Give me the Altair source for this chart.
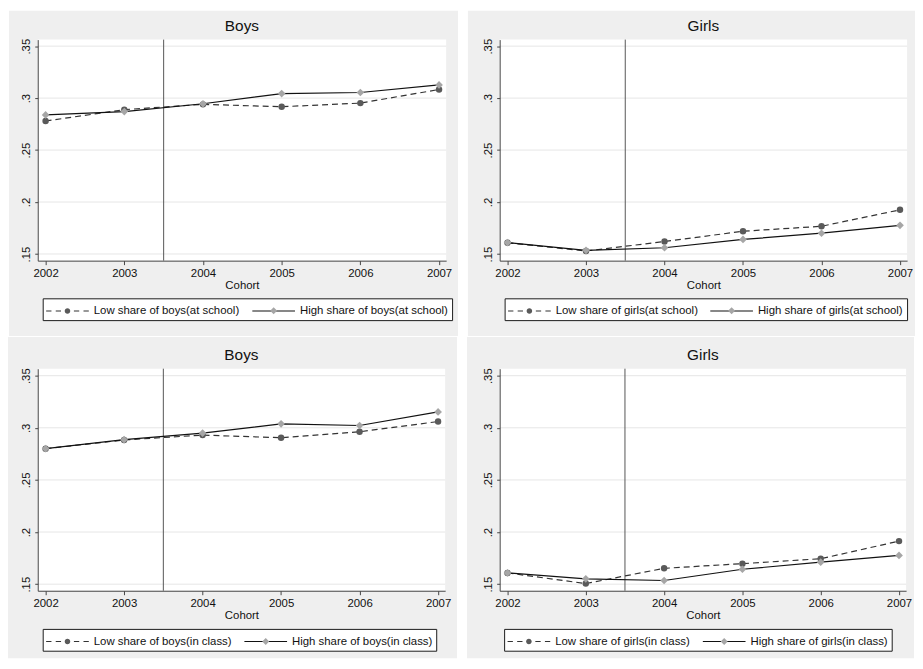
import altair as alt
import pandas as pd

# ---------------- data ----------------
cohorts = [2002, 2003, 2004, 2005, 2006, 2007]

boys_school_low = [0.2780, 0.2889, 0.2940, 0.2917, 0.2952, 0.3083]
boys_school_high = [0.2838, 0.2870, 0.2946, 0.3044, 0.3054, 0.3127]

girls_school_low = [0.1608, 0.1529, 0.1620, 0.1719, 0.1767, 0.1925]
girls_school_high = [0.1610, 0.1535, 0.1560, 0.1640, 0.1700, 0.1776]

boys_class_low = [0.2800, 0.2883, 0.2930, 0.2905, 0.2962, 0.3060]
boys_class_high = [0.2800, 0.2886, 0.2949, 0.3038, 0.3022, 0.3152]

girls_class_low = [0.1608, 0.1506, 0.1652, 0.1697, 0.1744, 0.1913]
girls_class_high = [0.1608, 0.1551, 0.1535, 0.1643, 0.1711, 0.1776]

panel_titles = ["Boys", "Girls", "Boys", "Girls"]
low_labels = ["Low share of boys(at school)", "Low share of girls(at school)",
              "Low share of boys(in class)", "Low share of girls(in class)"]
high_labels = ["High share of boys(at school)", "High share of girls(at school)",
               "High share of boys(in class)", "High share of girls(in class)"]

y_ticks = [0.15, 0.2, 0.25, 0.3, 0.35]
reform_line = [2003.5]
x_title = "Cohort"

# ---------------- styling ----------------
FONT = "Liberation Sans"
BG = "#efefef"
AXIS_COL = "#444444"
TXT = "#111111"
LOW_LINE = "#333333"
HIGH_LINE = "#111111"
LOW_MARK = "#5a5a5a"
HIGH_MARK = "#a6a6a6"
GRID = "#e6e6e6"

# legend symbols: nominal size 16px (keeps rows compact), glyph paths are 43px wide
SYM_SIZE = 16 * 16
A_LOW = ("M-2.69,0L-2.02,0M-1.48,0L-0.81,0M-0.27,0L0.27,0"
         "M0.81,0L1.48,0M2.02,0L2.69,0")
A_HIGH = "M-2.69,0L2.69,0"
B_LOW = "M-2.69,0L2.69,0M-0.35,0A0.35,0.35 0 1,1 0.35,0A0.35,0.35 0 1,1 -0.35,0Z"
B_HIGH = "M-2.69,0L2.69,0M0,-0.44L0.44,0L0,0.44L-0.44,0Z"


def legend_def(kind, lx, ly):
    common = dict(
        orient="none", legendX=lx, legendY=ly, direction="horizontal", title=None,
        labelFont=FONT, labelFontSize=11.5, labelLimit=0, labelOffset=17.5,
        symbolOffset=12.5, columnPadding=9, padding=3.5, symbolSize=SYM_SIZE,
        symbolOpacity=1, symbolStrokeWidth=1.1,
    )
    if kind == "A":
        return alt.Legend(**common, labelColor=TXT, fillColor="white",
                          strokeColor="#1a1a1a", zindex=1)
    return alt.Legend(**common, labelColor="transparent", zindex=2)


def panel(title, low_vals, high_vals, low_lab, high_lab, W, H, box, lxy, ydom):
    df = pd.DataFrame({
        "cohort": cohorts + cohorts,
        "value": low_vals + high_vals,
        "series": [low_lab] * len(cohorts) + [high_lab] * len(cohorts),
    })
    dom = [low_lab, high_lab]
    xs = alt.Scale(domain=[2001.9, 2007.09], nice=False, zero=False)
    ys = alt.Scale(domain=ydom, nice=False, zero=False)
    xaxis = alt.Axis(
        values=cohorts, format="d", title=x_title, labelFont=FONT, labelFontSize=11.5,
        labelColor=TXT, titleFont=FONT, titleFontSize=11.5, titleFontWeight="normal",
        titleColor=TXT, titlePadding=1, tickSize=4, tickColor=AXIS_COL, domainColor=AXIS_COL,
        labelPadding=3, grid=False, zindex=1, labelFlush=False, labelOverlap=False,
    )
    yaxis = alt.Axis(
        values=y_ticks, labelExpr="substring(format(datum.value, '.2~f'), 1)",
        labelAngle=270, labelAlign="center", labelBaseline="alphabetic",
        labelFont=FONT, labelFontSize=11.5, labelColor=TXT, tickSize=3,
        tickColor=AXIS_COL, domainColor=AXIS_COL, labelPadding=5, title=None,
        grid=False, zindex=1, labelFlush=False, labelOverlap=False,
    )
    X = alt.X("cohort:Q", scale=xs, axis=xaxis)
    Y = alt.Y("value:Q", scale=ys, axis=yaxis)
    one = alt.Data(values=[{"k": 1}])

    bg = alt.Chart(one).mark_rect(color=BG).encode(
        x=alt.value(box[0]), x2=alt.value(box[1]), y=alt.value(box[2]), y2=alt.value(box[3]))
    plotbg = alt.Chart(one).mark_rect(color="white").encode(
        x=alt.value(0), x2=alt.value(W), y=alt.value(0), y2=alt.value(H))
    heading = alt.Chart(alt.Data(values=[{"t": title}])).mark_text(
        font=FONT, fontSize=15.5, fontWeight="normal", color=TXT, align="center",
        baseline="alphabetic"
    ).encode(text="t:N", x=alt.value(W / 2), y=alt.value(-8.4))
    grid = alt.Chart(pd.DataFrame({"value": y_ticks})).mark_rule(
        color=GRID, strokeWidth=1).encode(y=Y, x=alt.value(0), x2=alt.value(W))
    vline = alt.Chart(pd.DataFrame({"cohort": reform_line})).mark_rule(
        color="#555555", strokeWidth=1).encode(x=X, y=alt.value(0), y2=alt.value(H))

    base = alt.Chart(df)
    low = base.transform_filter(alt.datum.series == low_lab)
    high = base.transform_filter(alt.datum.series == high_lab)
    low_line = low.mark_line(color=LOW_LINE, strokeWidth=1.2, strokeDash=[6, 4]).encode(x=X, y=Y)
    high_line = high.mark_line(color=HIGH_LINE, strokeWidth=1.2).encode(x=X, y=Y)
    low_pts = low.mark_point(shape="circle", filled=True, size=42, color=LOW_MARK,
                             opacity=1).encode(x=X, y=Y)
    high_pts = high.mark_point(shape="diamond", filled=True, size=60, color=HIGH_MARK,
                               opacity=1).encode(x=X, y=Y)

    leg_a_def = legend_def("A", lxy[0], lxy[1])
    leg_b_def = legend_def("B", lxy[0], lxy[1])
    leg_a = base.mark_point(size=0, filled=False, strokeWidth=1.1).encode(
        x=X, y=Y,
        color=alt.Color("series:N", scale=alt.Scale(domain=dom, range=[LOW_LINE, HIGH_LINE]),
                        legend=leg_a_def),
        shape=alt.Shape("series:N", scale=alt.Scale(domain=dom, range=[A_LOW, A_HIGH]),
                        legend=leg_a_def))
    leg_b = base.mark_point(size=0, filled=True).encode(
        x=X, y=Y,
        color=alt.Color("series:N", scale=alt.Scale(domain=dom, range=[LOW_MARK, HIGH_MARK]),
                        legend=leg_b_def),
        shape=alt.Shape("series:N", scale=alt.Scale(domain=dom, range=[B_LOW, B_HIGH]),
                        legend=leg_b_def))

    return alt.layer(
        bg, plotbg, heading, grid, vline, low_line, high_line, low_pts, high_pts, leg_a, leg_b
    ).resolve_scale(shape="independent", color="independent").properties(width=W, height=H)


top_dom = [0.1436, 0.3563]
bot_dom = [0.1437, 0.3567]

p1 = panel(panel_titles[0], boys_school_low, boys_school_high, low_labels[0], high_labels[0],
           412, 223, (-29, 424, -29, 299), (5, 261), top_dom)
p2 = panel(panel_titles[1], girls_school_low, girls_school_high, low_labels[1], high_labels[1],
           411, 223, (-32, 419, -29, 299), (5, 261), top_dom)
p3 = panel(panel_titles[2], boys_class_low, boys_class_high, low_labels[2], high_labels[2],
           411, 224, (-30, 423, -32, 292), (5, 262.5), bot_dom)
p4 = panel(panel_titles[3], girls_class_low, girls_class_high, low_labels[3], high_labels[3],
           410, 224, (-33, 418, -32, 292), (4.5, 262.5), bot_dom)

row1 = alt.hconcat(p1, p2, spacing=10)
row2 = alt.hconcat(p3, p4, spacing=10)
chart = alt.vconcat(row1, row2, spacing=1).properties(
    padding=0, background="white"
).configure_view(stroke=None)

chart.save("out.html", embed_options={"renderer": "svg", "actions": False})
